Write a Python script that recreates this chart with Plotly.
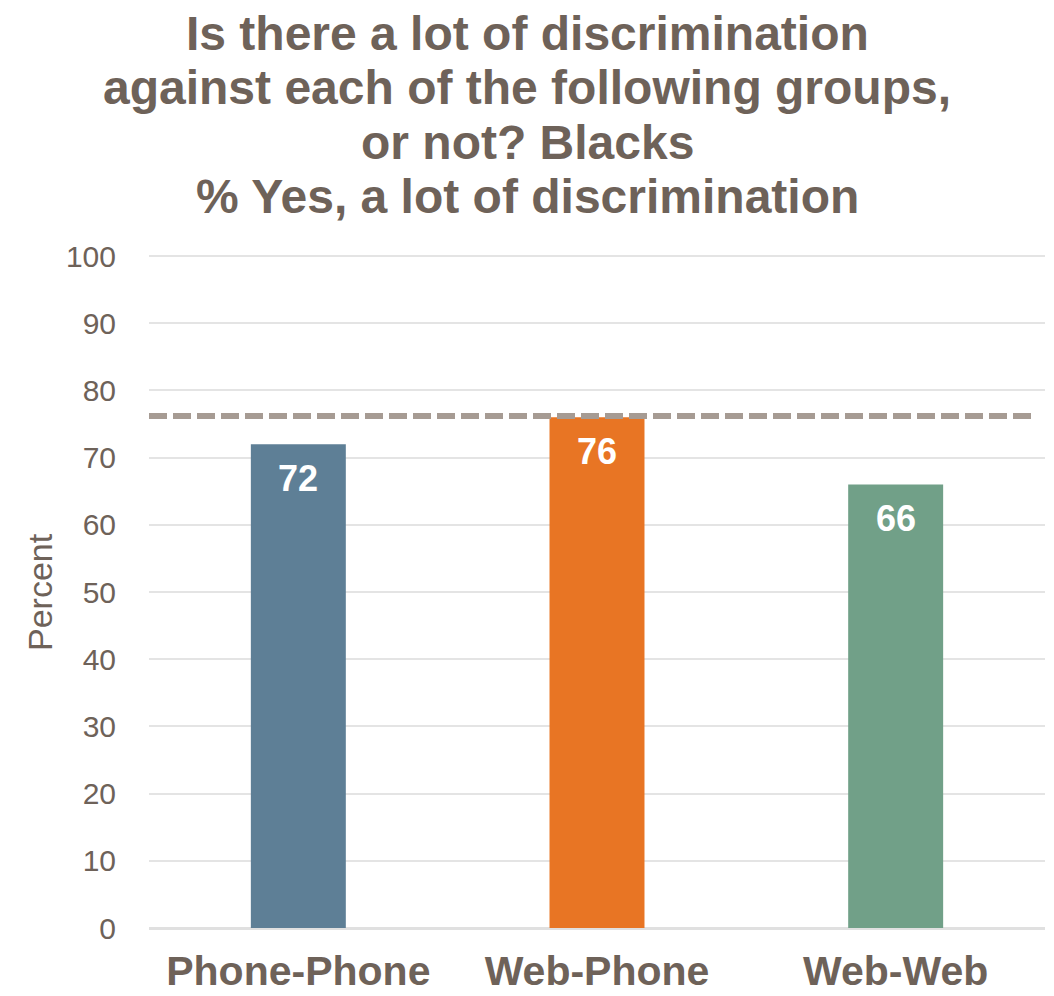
import plotly.graph_objects as go

# Survey mode comparison: share saying there is a lot of discrimination against Blacks
modes = ["Phone-Phone", "Web-Phone", "Web-Web"]
pct_yes = [72, 76, 66]
bar_colors = ["#5E7F96", "#E87524", "#71A088"]
benchmark = 76.2

title_lines = [
    "Is there a lot of discrimination",
    "against each of the following groups,",
    "or not? Blacks",
    "% Yes, a lot of discrimination",
]
y_ticks = list(range(0, 101, 10))

TEXT = "#6E6259"
FONT = "Liberation Sans, Arial, sans-serif"

PLOT_L, PLOT_W = 149, 896
PLOT_TOP, PLOT_BOTTOM = 253.7, 927.7
span = PLOT_BOTTOM - PLOT_TOP

fig = go.Figure()
fig.add_trace(go.Bar(
    x=modes,
    y=pct_yes,
    marker=dict(color=bar_colors, line=dict(width=0)),
    width=0.318,
    hoverinfo="x+y",
))

# value labels inside the top of each bar
for m, v in zip(modes, pct_yes):
    fig.add_annotation(
        x=m, y=v, xref="x", yref="y", text=f"<b>{v}</b>",
        showarrow=False, yanchor="top", yshift=-12,
        font=dict(family=FONT, size=36, color="white"),
    )

# benchmark dashed line
fig.add_shape(
    type="line", xref="x domain", yref="y",
    x0=0, x1=0.985, y0=benchmark, y1=benchmark,
    line=dict(color="#A69B93", width=6, dash="18px,6px"),
)

# multi-line heading, centred on the page
title_x = (527 - PLOT_L) / PLOT_W
for i, line in enumerate(title_lines):
    ypx = 33 + i * 54.5
    fig.add_annotation(
        x=title_x, xref="paper", xanchor="center",
        y=(PLOT_BOTTOM - ypx) / span, yref="paper", yanchor="middle",
        text=f"<b>{line}</b>", showarrow=False,
        font=dict(family=FONT, size=48, color=TEXT),
    )
fig.add_annotation(
    x=(40 - PLOT_L) / PLOT_W, xref="paper", xanchor="center",
    y=(PLOT_BOTTOM - 591.7) / span, yref="paper", yanchor="middle",
    text="Percent", textangle=-90, showarrow=False,
    font=dict(family=FONT, size=34, color=TEXT),
)

fig.update_layout(
    width=1054, height=996,
    margin=dict(l=PLOT_L, r=1054 - PLOT_L - PLOT_W, t=PLOT_TOP, b=996 - PLOT_BOTTOM,
                autoexpand=False),
    paper_bgcolor="white", plot_bgcolor="white",
    showlegend=False,
    font=dict(family=FONT, color=TEXT),
)
fig.update_xaxes(
    tickfont=dict(family=FONT, size=41, color=TEXT, weight="bold"),
    ticks="outside", ticklen=7, tickcolor="rgba(0,0,0,0)",
    showgrid=False, showline=False, zeroline=False, automargin=False,
)
fig.update_yaxes(
    range=[0, 100.3], tickvals=y_ticks,
    tickfont=dict(family=FONT, size=30, color=TEXT),
    ticks="outside", ticklen=26, tickcolor="rgba(0,0,0,0)",
    showgrid=True, gridcolor="#E4E4E4", gridwidth=2,
    zeroline=True, zerolinecolor="#E0E0E0", zerolinewidth=3,
    showline=False, automargin=False,
)

fig.write_html("out.html")
